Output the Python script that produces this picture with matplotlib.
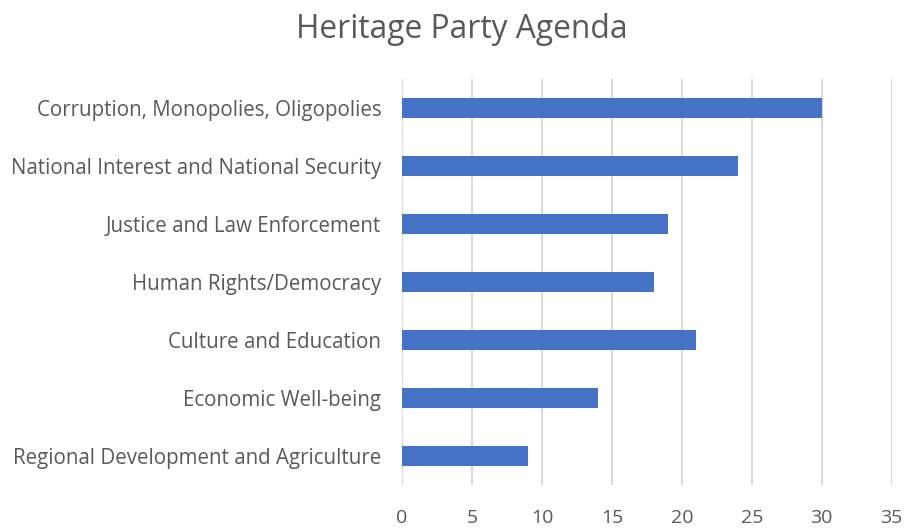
import matplotlib.pyplot as plt

# Data (top to bottom)
categories = [
    "Corruption, Monopolies, Oligopolies",
    "National Interest and National Security",
    "Justice and Law Enforcement",
    "Human Rights/Democracy",
    "Culture and Education",
    "Economic Well-being",
    "Regional Development and Agriculture",
]
values = [30, 24, 19, 18, 21, 14, 9]
x_ticks = [0, 5, 10, 15, 20, 25, 30, 35]

plt.rcParams['font.family'] = ['Open Sans', 'DejaVu Sans']
text_color = "#595959"

fig = plt.figure(figsize=(9.06, 5.29), dpi=100)
ax = fig.add_axes([0.4437, 0.0832, 0.5405, 0.7675])

pos = list(range(len(categories)))
ax.barh(pos, values, height=0.36, color="#4472C4", zorder=3)

ax.set_xlim(0, 35)
ax.set_ylim(len(categories) - 0.5, -0.5)
ax.set_yticks(pos)
ax.set_yticklabels(categories)
ax.set_xticks(x_ticks)

ax.grid(axis="x", color="#d9d9d9", linewidth=1.5, zorder=0)
ax.grid(axis="y", visible=False)
for s in ax.spines.values():
    s.set_visible(False)

ax.tick_params(axis="y", length=0, pad=15, labelsize=14.8, labelcolor=text_color)
ax.tick_params(axis="x", length=0, pad=17, labelsize=14, labelcolor=text_color)

fig.text(0.51, 0.945, "Heritage Party Agenda", ha="center", va="center",
         fontsize=22.9, color=text_color)

fig.savefig("out.png", dpi=100)
